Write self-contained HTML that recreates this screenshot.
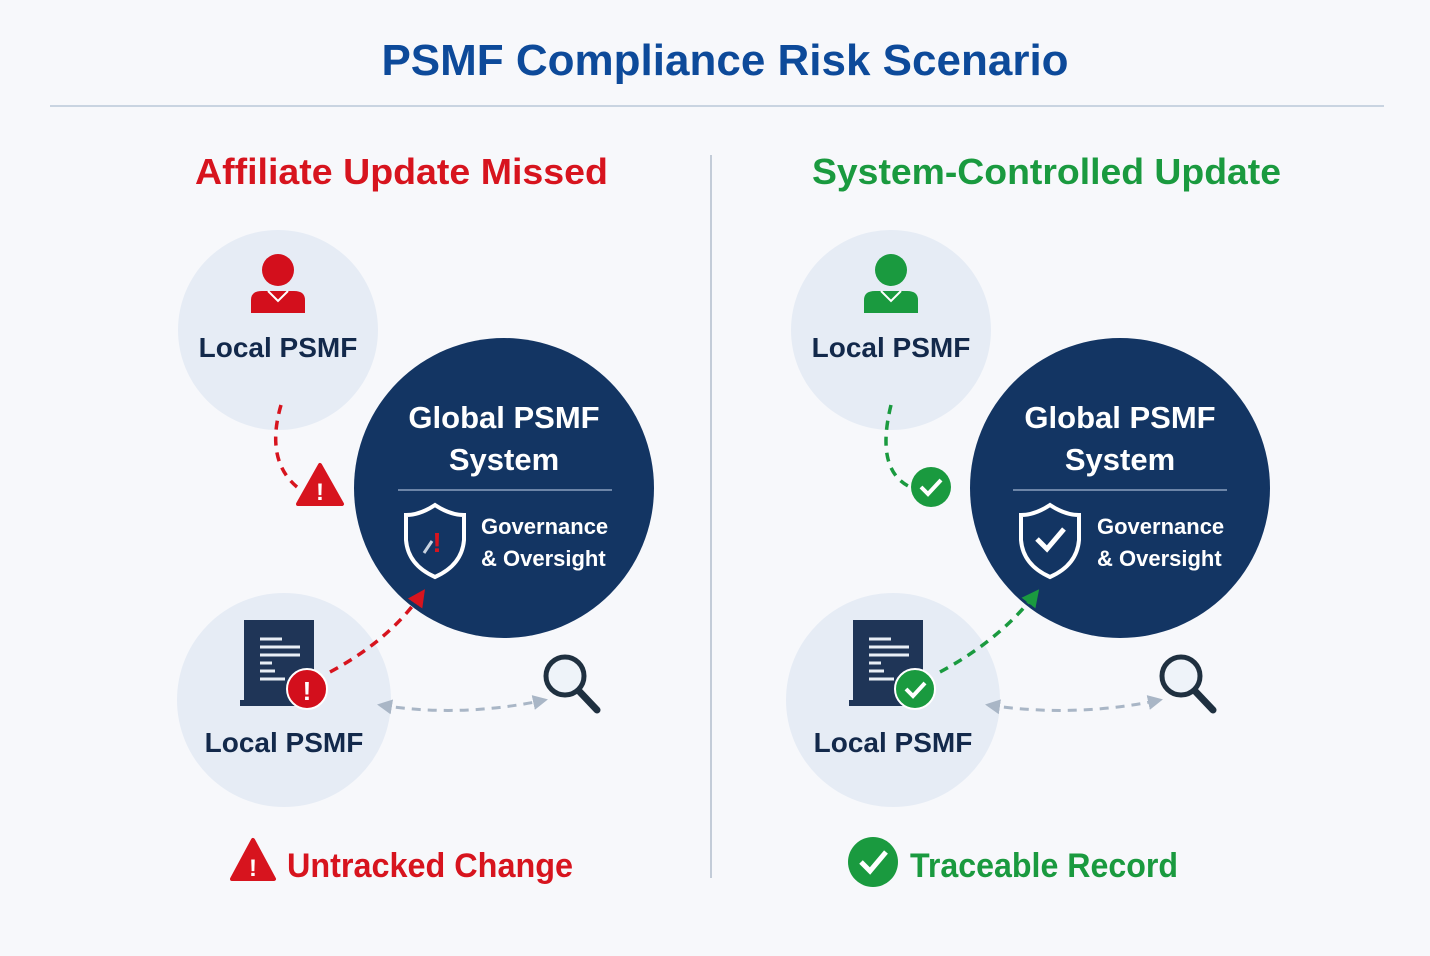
<!DOCTYPE html>
<html><head><meta charset="utf-8"><style>
html,body{margin:0;padding:0;background:#f7f8fb;}
svg{display:block;}
text{font-family:"Liberation Sans","DejaVu Sans",sans-serif;font-weight:bold;}
</style></head><body>
<svg width="1430" height="956" viewBox="0 0 1430 956" xmlns="http://www.w3.org/2000/svg">
<defs>
<marker id="ar" viewBox="0 0 10 10" refX="8" refY="5" markerWidth="5" markerHeight="5" orient="auto"><path d="M0,0 L10,5 L0,10 z" fill="#d7141e"/></marker>
<marker id="ag" viewBox="0 0 10 10" refX="8" refY="5" markerWidth="5" markerHeight="5" orient="auto"><path d="M0,0 L10,5 L0,10 z" fill="#1a9a3f"/></marker>
<marker id="agr" viewBox="0 0 10 10" refX="8" refY="5" markerWidth="5" markerHeight="5" orient="auto-start-reverse"><path d="M0,0 L10,5 L0,10 z" fill="#a9b6c6"/></marker>
</defs>
<rect width="1430" height="956" fill="#f7f8fb"/>
<text x="725" y="75" text-anchor="middle" font-size="44" fill="#0d4a9a">PSMF Compliance Risk Scenario</text>
<line x1="50" y1="106" x2="1384" y2="106" stroke="#c9d4e1" stroke-width="2"/>
<line x1="711" y1="155" x2="711" y2="878" stroke="#c3ccd8" stroke-width="2"/>

<text x="195" y="184" font-size="36" fill="#d7141e" textLength="413" lengthAdjust="spacingAndGlyphs">Affiliate Update Missed</text>
<text x="812" y="184" font-size="36" fill="#1a9a3f" textLength="469" lengthAdjust="spacingAndGlyphs">System-Controlled Update</text>

<!-- LEFT -->
<g>
<circle cx="278" cy="330" r="100" fill="#e6ecf5"/>
<circle cx="278" cy="270" r="16" fill="#d30f1c"/>
<path d="M251,313 L251,300 Q251,291 262,291 L294,291 Q305,291 305,300 L305,313 Z" fill="#d30f1c"/>
<path d="M268,291 L278,301 L288,291" fill="none" stroke="#fff" stroke-width="2"/>
<text x="278" y="357" text-anchor="middle" font-size="28" fill="#13294b">Local PSMF</text>

<circle cx="284" cy="700" r="107" fill="#e6ecf5"/>
<rect x="244" y="620" width="70" height="84" fill="#1f3557"/>
<rect x="240" y="700" width="76" height="6" fill="#1f3557"/>
<g stroke="#e8eef6" stroke-width="3"><line x1="260" y1="639" x2="282" y2="639"/><line x1="260" y1="647" x2="300" y2="647"/><line x1="260" y1="655" x2="300" y2="655"/><line x1="260" y1="663" x2="272" y2="663"/><line x1="260" y1="671" x2="275" y2="671"/><line x1="260" y1="679" x2="285" y2="679"/></g>
<circle cx="307" cy="689" r="20" fill="#d30f1c" stroke="#fff" stroke-width="2"/>
<text x="307" y="700" text-anchor="middle" font-size="26" fill="#fff">!</text>
<text x="284" y="752" text-anchor="middle" font-size="28" fill="#13294b">Local PSMF</text>

<path d="M281,405 Q265,460 297,487" fill="none" stroke="#d7141e" stroke-width="3.5" stroke-dasharray="9,7"/>
<path d="M320,465 L342,504 L298,504 Z" fill="#d7141e" stroke="#d7141e" stroke-width="4" stroke-linejoin="round"/>
<text x="320" y="500" text-anchor="middle" font-size="24" fill="#fff">!</text>

<circle cx="504" cy="488" r="150" fill="#133563"/>
<text x="504" y="428" text-anchor="middle" font-size="31" fill="#fff">Global PSMF</text>
<text x="504" y="470" text-anchor="middle" font-size="31" fill="#fff">System</text>
<line x1="398" y1="490" x2="612" y2="490" stroke="#8aa0bf" stroke-width="1.5"/>
<path d="M435,505 Q420,515 406,515 L406,540 Q408,565 435,577 Q462,565 464,540 L464,515 Q450,515 435,505 Z" fill="none" stroke="#fff" stroke-width="4"/>
<line x1="424" y1="553" x2="432" y2="541" stroke="#c8d2e0" stroke-width="3"/>
<text x="437" y="552" text-anchor="middle" font-size="28" fill="#d7141e">!</text>
<text x="481" y="534" font-size="22" fill="#fff">Governance</text>
<text x="481" y="566" font-size="22" fill="#fff">&amp; Oversight</text>

<path d="M330,672 Q390,640 423,592" fill="none" stroke="#d7141e" stroke-width="3.5" stroke-dasharray="9,7" marker-end="url(#ar)"/>
<path d="M380,705 Q460,718 545,700" fill="none" stroke="#a9b6c6" stroke-width="3" stroke-dasharray="9,7" marker-end="url(#agr)" marker-start="url(#agr)"/>
<circle cx="565" cy="676" r="19" fill="#eef3f9" stroke="#1f3040" stroke-width="5"/>
<line x1="579" y1="691" x2="597" y2="710" stroke="#1f3040" stroke-width="7" stroke-linecap="round"/>

<path d="M253,840 L274,879 L232,879 Z" fill="#d7141e" stroke="#d7141e" stroke-width="4" stroke-linejoin="round"/>
<text x="253" y="876" text-anchor="middle" font-size="24" fill="#fff">!</text>
<text x="287" y="877" font-size="34" fill="#d7141e" textLength="286" lengthAdjust="spacingAndGlyphs">Untracked Change</text>
</g>

<!-- RIGHT -->
<g>
<circle cx="891" cy="330" r="100" fill="#e6ecf5"/>
<circle cx="891" cy="270" r="16" fill="#1a9a3f"/>
<path d="M864,313 L864,300 Q864,291 875,291 L907,291 Q918,291 918,300 L918,313 Z" fill="#1a9a3f"/>
<path d="M881,291 L891,301 L901,291" fill="none" stroke="#fff" stroke-width="2"/>
<text x="891" y="357" text-anchor="middle" font-size="28" fill="#13294b">Local PSMF</text>

<circle cx="893" cy="700" r="107" fill="#e6ecf5"/>
<rect x="853" y="620" width="70" height="84" fill="#1f3557"/>
<rect x="849" y="700" width="76" height="6" fill="#1f3557"/>
<g stroke="#e8eef6" stroke-width="3"><line x1="869" y1="639" x2="891" y2="639"/><line x1="869" y1="647" x2="909" y2="647"/><line x1="869" y1="655" x2="909" y2="655"/><line x1="869" y1="663" x2="881" y2="663"/><line x1="869" y1="671" x2="884" y2="671"/><line x1="869" y1="679" x2="894" y2="679"/></g>
<circle cx="915" cy="689" r="20" fill="#1a9a3f" stroke="#fff" stroke-width="2"/>
<path d="M906,689 L913,696 L925,683" fill="none" stroke="#fff" stroke-width="4"/>
<text x="893" y="752" text-anchor="middle" font-size="28" fill="#13294b">Local PSMF</text>

<path d="M891,405 Q875,470 910,487" fill="none" stroke="#1a9a3f" stroke-width="3.5" stroke-dasharray="9,7"/>
<circle cx="931" cy="487" r="20" fill="#1a9a3f"/>
<path d="M921,487 L928,494 L941,480" fill="none" stroke="#fff" stroke-width="4"/>

<circle cx="1120" cy="488" r="150" fill="#133563"/>
<text x="1120" y="428" text-anchor="middle" font-size="31" fill="#fff">Global PSMF</text>
<text x="1120" y="470" text-anchor="middle" font-size="31" fill="#fff">System</text>
<line x1="1013" y1="490" x2="1227" y2="490" stroke="#8aa0bf" stroke-width="1.5"/>
<path d="M1050,505 Q1035,515 1021,515 L1021,540 Q1023,565 1050,577 Q1077,565 1079,540 L1079,515 Q1065,515 1050,505 Z" fill="none" stroke="#fff" stroke-width="4"/>
<path d="M1037,539 L1047,549 L1064,529" fill="none" stroke="#fff" stroke-width="5"/>
<text x="1097" y="534" font-size="22" fill="#fff">Governance</text>
<text x="1097" y="566" font-size="22" fill="#fff">&amp; Oversight</text>

<path d="M940,672 Q1000,640 1037,592" fill="none" stroke="#1a9a3f" stroke-width="3.5" stroke-dasharray="9,7" marker-end="url(#ag)"/>
<path d="M988,705 Q1075,718 1160,700" fill="none" stroke="#a9b6c6" stroke-width="3" stroke-dasharray="9,7" marker-end="url(#agr)" marker-start="url(#agr)"/>
<circle cx="1181" cy="676" r="19" fill="#eef3f9" stroke="#1f3040" stroke-width="5"/>
<line x1="1195" y1="691" x2="1213" y2="710" stroke="#1f3040" stroke-width="7" stroke-linecap="round"/>

<circle cx="873" cy="862" r="25" fill="#1a9a3f"/>
<path d="M861,862 L870,871 L886,852" fill="none" stroke="#fff" stroke-width="5"/>
<text x="910" y="877" font-size="34" fill="#1a9a3f" textLength="268" lengthAdjust="spacingAndGlyphs">Traceable Record</text>
</g>
</svg>
</body></html>
